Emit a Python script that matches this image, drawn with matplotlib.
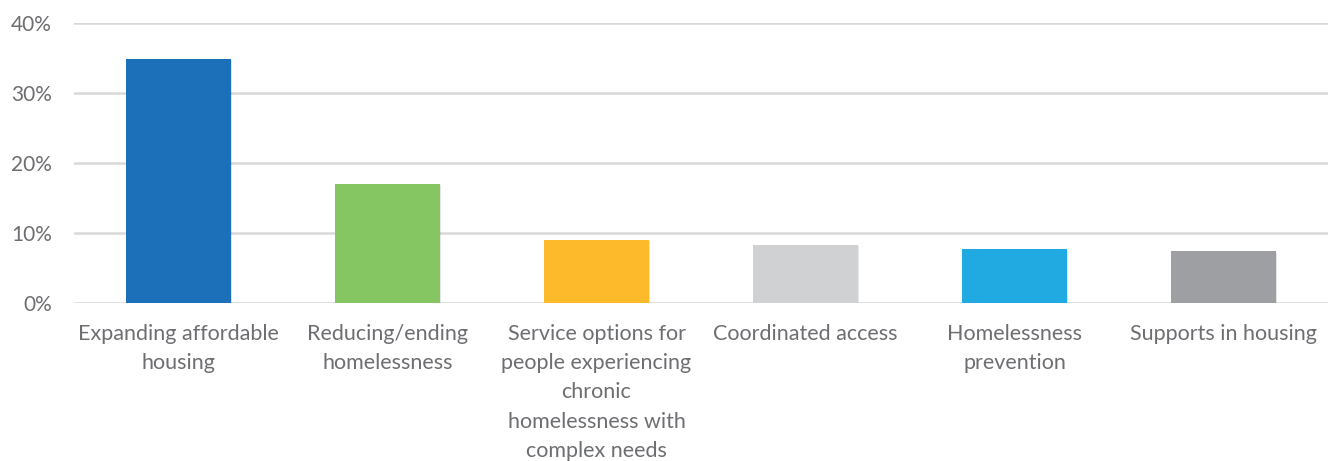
import matplotlib

matplotlib.use("Agg")
import matplotlib.pyplot as plt
import matplotlib.patheffects as pe

categories = [
    "Expanding affordable\nhousing",
    "Reducing/ending\nhomelessness",
    "Service options for\npeople experiencing\nchronic\nhomelessness with\ncomplex needs",
    "Coordinated access",
    "Homelessness\nprevention",
    "Supports in housing",
]
values = [34.9, 17.0, 9.0, 8.3, 7.7, 7.4]
colors = ["#1C70BA", "#86C662", "#FDBA2A", "#D0D1D3", "#21AAE1", "#9D9FA3"]
yticks = [0, 10, 20, 30, 40]

TEXT = "#6d6e71"
plt.rcParams["font.family"] = ["Lato", "DejaVu Sans"]

fig = plt.figure(figsize=(13.38, 4.61), dpi=100)
ax = fig.add_axes([74 / 1338, 1 - 303 / 461, (1328 - 74) / 1338, 280 / 461])

shadow = [pe.SimplePatchShadow(offset=(1, -1), alpha=0.12), pe.Normal()]
bars = ax.bar(range(len(values)), values, width=0.5, color=colors, zorder=3)
for b in bars:
    b.set_path_effects(shadow)

ax.set_xlim(-0.5, len(values) - 0.5)
ax.set_ylim(0, 40)
ax.set_yticks(yticks)
ax.set_yticklabels([f"{t}%" for t in yticks], fontsize=15, color=TEXT)
ax.set_xticks(range(len(values)))
ax.set_xticklabels(categories, fontsize=15.5, color=TEXT, linespacing=1.58, va="top")
ax.tick_params(axis="both", length=0)
ax.tick_params(axis="y", pad=16)
ax.tick_params(axis="x", pad=15)
ax.grid(axis="y", color="#d9d9d9", linewidth=1.8, zorder=0)
for s in ax.spines.values():
    s.set_visible(False)

fig.savefig("out.png", dpi=100)
